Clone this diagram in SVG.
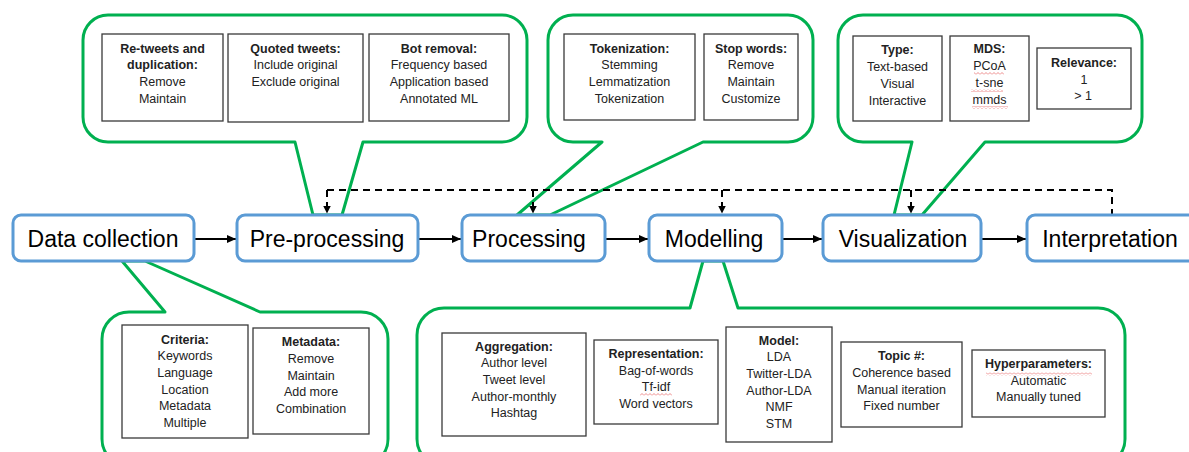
<svg xmlns="http://www.w3.org/2000/svg" width="1189" height="452" viewBox="0 0 1189 452">
<defs>
<style>
.callout{fill:#fff;stroke:#00b050;stroke-width:3;stroke-linejoin:round}
.node{fill:#fff;stroke:#5b9bd5;stroke-width:3}
.nt{font-family:"Liberation Sans",Arial,sans-serif;font-size:23px;fill:#000;text-anchor:middle}
.box{fill:#fff;stroke:#3a3a3a;stroke-width:1.3}
.t{font-family:"Liberation Sans",Arial,sans-serif;font-size:12.5px;fill:#222;text-anchor:middle}
.b{font-weight:bold}
.arrow{stroke:#000;stroke-width:2;fill:none}
.dash{stroke:#000;stroke-width:2;fill:none;stroke-dasharray:7 5}
</style>
<marker id="ah" markerWidth="9" markerHeight="8" refX="9" refY="4" orient="auto" markerUnits="userSpaceOnUse"><path d="M0,0 L9,4 L0,8 Z" fill="#000"/></marker>
<marker id="dh" markerWidth="8" markerHeight="8" refX="8" refY="4" orient="auto" markerUnits="userSpaceOnUse"><path d="M0,0 L8,4 L0,8 Z" fill="#000"/></marker>
<pattern id="sq" width="4" height="3" patternUnits="userSpaceOnUse"><path d="M0,2.5 L2,0.5 L4,2.5" fill="none" stroke="#e04040" stroke-width="0.6"/></pattern>
</defs>

<g id="callout-preprocessing">
<path class="callout" d="M108,15 H502 A25,25 0 0 1 527,40 V117 A25,25 0 0 1 502,142 H363 L342,215 L313,215 L295,142 H108 A25,25 0 0 1 83,117 V40 A25,25 0 0 1 108,15 Z"/>
<rect class="box" x="102" y="34" width="121" height="87"/>
<text class="t" x="162.5" y="52.8"><tspan class="b">Re-tweets and</tspan><tspan class="b" x="162.5" dy="16.6">duplication:</tspan><tspan x="162.5" dy="16.6">Remove</tspan><tspan x="162.5" dy="16.6">Maintain</tspan></text>
<rect class="box" x="228" y="34" width="135" height="88"/>
<text class="t" x="295.5" y="52.8"><tspan class="b">Quoted tweets:</tspan><tspan x="295.5" dy="16.6">Include original</tspan><tspan x="295.5" dy="16.6">Exclude original</tspan></text>
<rect class="box" x="369" y="34" width="140" height="87"/>
<text class="t" x="439" y="52.8"><tspan class="b">Bot removal:</tspan><tspan x="439" dy="16.6">Frequency based</tspan><tspan x="439" dy="16.6">Application based</tspan><tspan x="439" dy="16.6">Annotated ML</tspan></text>
</g>

<g id="callout-processing">
<path class="callout" d="M573,15 H788 A25,25 0 0 1 813,40 V117 A25,25 0 0 1 788,142 H703 L550,215 L517,215 L602,142 H573 A25,25 0 0 1 548,117 V40 A25,25 0 0 1 573,15 Z"/>
<rect class="box" x="564" y="34" width="131" height="86"/>
<text class="t" x="629.5" y="52.8"><tspan class="b">Tokenization:</tspan><tspan x="629.5" dy="16.6">Stemming</tspan><tspan x="629.5" dy="16.6">Lemmatization</tspan><tspan x="629.5" dy="16.6">Tokenization</tspan></text>
<rect class="box" x="704" y="34" width="94" height="86"/>
<text class="t" x="751" y="52.8"><tspan class="b">Stop words:</tspan><tspan x="751" dy="16.6">Remove</tspan><tspan x="751" dy="16.6">Maintain</tspan><tspan x="751" dy="16.6">Customize</tspan></text>
</g>

<g id="callout-visualization">
<path class="callout" d="M863,15 H1117 A25,25 0 0 1 1142,40 V117 A25,25 0 0 1 1117,142 H985 L922,215 L894,215 L912,142 H863 A25,25 0 0 1 838,117 V40 A25,25 0 0 1 863,15 Z"/>
<rect class="box" x="853" y="36" width="89" height="85"/>
<text class="t" x="897.5" y="53.5"><tspan class="b">Type:</tspan><tspan x="897.5" dy="17">Text-based</tspan><tspan x="897.5" dy="17">Visual</tspan><tspan x="897.5" dy="17">Interactive</tspan></text>
<rect class="box" x="950" y="36" width="79" height="85"/>
<text class="t" x="989.5" y="53"><tspan class="b">MDS:</tspan><tspan x="989.5" dy="17">PCoA</tspan><tspan x="989.5" dy="17">t-sne</tspan><tspan x="989.5" dy="17">mmds</tspan></text>
<rect x="974" y="72" width="30" height="3" fill="url(#sq)"/>
<rect x="971" y="89" width="32" height="3" fill="url(#sq)"/>
<rect x="972" y="106" width="36" height="3" fill="url(#sq)"/>
<rect class="box" x="1037" y="48" width="94" height="61"/>
<text class="t" x="1084" y="66.8"><tspan class="b">Relevance:</tspan><tspan x="1084" dy="16.7">1</tspan><tspan x="1083" dy="16.7">&gt; 1</tspan></text>
</g>

<g id="callout-datacollection">
<path class="callout" d="M129,312 H165 L122,261 L145,261 L260,312 H361 A27,27 0 0 1 388,339 V439 A27,27 0 0 1 361,466 H129 A27,27 0 0 1 102,439 V339 A27,27 0 0 1 129,312 Z"/>
<rect class="box" x="122" y="325" width="126" height="113"/>
<text class="t" x="185" y="343.5"><tspan class="b">Criteria:</tspan><tspan x="185" dy="16.7">Keywords</tspan><tspan x="185" dy="16.7">Language</tspan><tspan x="185" dy="16.7">Location</tspan><tspan x="185" dy="16.7">Metadata</tspan><tspan x="185" dy="16.7">Multiple</tspan></text>
<rect class="box" x="253" y="328" width="116" height="106"/>
<text class="t" x="311" y="346.2"><tspan class="b">Metadata:</tspan><tspan x="311" dy="16.7">Remove</tspan><tspan x="311" dy="16.7">Maintain</tspan><tspan x="311" dy="16.7">Add more</tspan><tspan x="311" dy="16.7">Combination</tspan></text>
</g>

<g id="callout-modelling">
<path class="callout" d="M444,308 H690 L703,261 L723,261 L738,308 H1098 A27,27 0 0 1 1125,335 V439 A27,27 0 0 1 1098,466 H444 A27,27 0 0 1 417,439 V335 A27,27 0 0 1 444,308 Z"/>
<rect class="box" x="442" y="333" width="144" height="103"/>
<text class="t" x="514" y="350.5"><tspan class="b">Aggregation:</tspan><tspan x="514" dy="16.7">Author level</tspan><tspan x="514" dy="16.7">Tweet level</tspan><tspan x="514" dy="16.7">Author-monthly</tspan><tspan x="514" dy="16.7">Hashtag</tspan></text>
<rect class="box" x="594" y="340" width="124" height="84"/>
<text class="t" x="656" y="357.8"><tspan class="b">Representation:</tspan><tspan x="656" dy="16.7">Bag-of-words</tspan><tspan x="656" dy="16.7">Tf-idf</tspan><tspan x="656" dy="16.7">Word vectors</tspan></text>
<rect x="640" y="393" width="32" height="3" fill="url(#sq)"/>
<rect class="box" x="726" y="327" width="106" height="115"/>
<text class="t" x="779" y="344.5"><tspan class="b">Model:</tspan><tspan x="779" dy="16.7">LDA</tspan><tspan x="779" dy="16.7">Twitter-LDA</tspan><tspan x="779" dy="16.7">Author-LDA</tspan><tspan x="779" dy="16.7">NMF</tspan><tspan x="779" dy="16.7">STM</tspan></text>
<rect class="box" x="841" y="342" width="121" height="85"/>
<text class="t" x="901.5" y="360.2"><tspan class="b">Topic #:</tspan><tspan x="901.5" dy="16.7">Coherence based</tspan><tspan x="901.5" dy="16.7">Manual iteration</tspan><tspan x="901.5" dy="16.7">Fixed number</tspan></text>
<rect class="box" x="972" y="350" width="133" height="67"/>
<text class="t" x="1038.5" y="367.8"><tspan class="b">Hyperparameters:</tspan><tspan x="1038.5" dy="16.7">Automatic</tspan><tspan x="1038.5" dy="16.7">Manually tuned</tspan></text>
<rect x="986" y="372.5" width="106" height="3" fill="url(#sq)"/>
</g>

<g id="connectors">
<line class="arrow" x1="195" y1="239" x2="236" y2="239" marker-end="url(#ah)"/>
<line class="arrow" x1="419" y1="239" x2="461" y2="239" marker-end="url(#ah)"/>
<line class="arrow" x1="606" y1="239" x2="648" y2="239" marker-end="url(#ah)"/>
<line class="arrow" x1="783" y1="239" x2="822" y2="239" marker-end="url(#ah)"/>
<line class="arrow" x1="982" y1="239" x2="1026" y2="239" marker-end="url(#ah)"/>
<path class="dash" d="M327,190 H1112 V214"/>
<path class="dash" d="M327,190 V213.5" marker-end="url(#dh)"/>
<path class="dash" d="M533,190 V213.5" marker-end="url(#dh)"/>
<path class="dash" d="M722,190 V213.5" marker-end="url(#dh)"/>
<path class="dash" d="M911,190 V213.5" marker-end="url(#dh)"/>
</g>

<g id="node-data-collection">
<rect class="node" x="13" y="215" width="181" height="46" rx="8"/>
<text class="nt" x="103" y="246.5">Data collection</text>
</g>
<g id="node-pre-processing">
<rect class="node" x="237" y="215" width="181" height="46" rx="8"/>
<text class="nt" x="327" y="246.5">Pre-processing</text>
</g>
<g id="node-processing">
<rect class="node" x="462" y="215" width="143" height="46" rx="8"/>
<text class="nt" x="529" y="246.5">Processing</text>
</g>
<g id="node-modelling">
<rect class="node" x="649" y="215" width="133" height="46" rx="8"/>
<text class="nt" x="714" y="246.5">Modelling</text>
</g>
<g id="node-visualization">
<rect class="node" x="823" y="215" width="158" height="46" rx="8"/>
<text class="nt" x="903" y="246.5">Visualization</text>
</g>
<g id="node-interpretation">
<rect class="node" x="1027" y="215" width="175" height="46" rx="8"/>
<text class="nt" x="1110" y="246.5">Interpretation</text>
</g>
</svg>
